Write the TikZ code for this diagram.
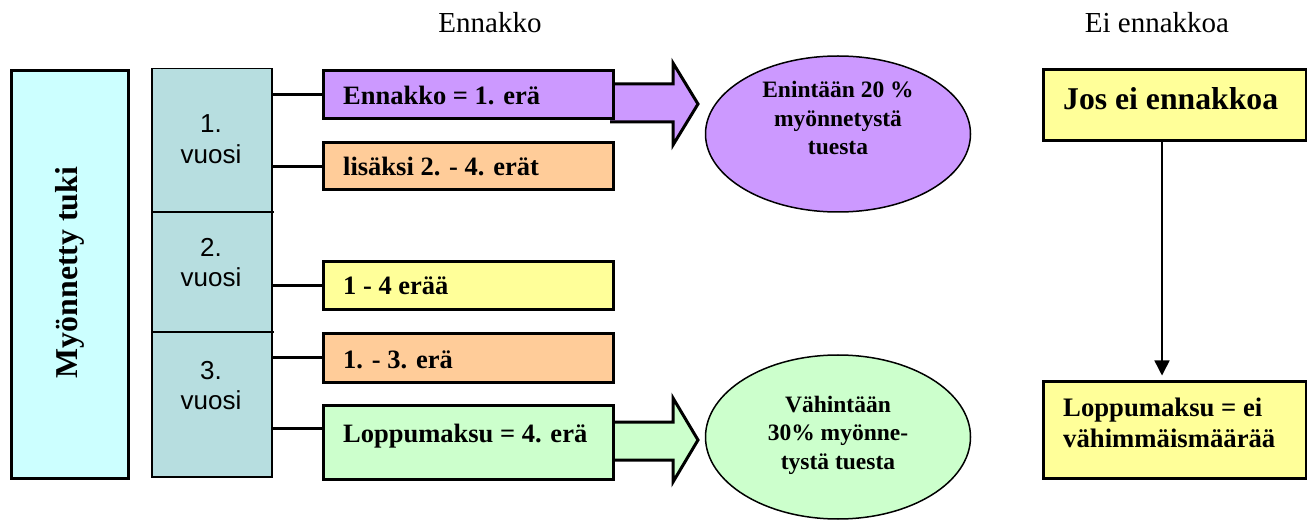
\documentclass[tikz,border=0pt]{standalone}
\usepackage{fontspec}
\setmainfont{Liberation Serif}
\newfontfamily\arialf{Liberation Sans}
\usetikzlibrary{arrows.meta,calc,shapes.geometric}
\definecolor{cyanbox}{HTML}{CCFFFF}
\definecolor{yearcol}{RGB}{183,222,224}
\definecolor{purp}{HTML}{CC99FF}
\definecolor{orng}{HTML}{FFCC99}
\definecolor{yell}{HTML}{FFFF99}
\definecolor{grn}{HTML}{CCFFCC}
\begin{document}
\begin{tikzpicture}[x=1pt,y=-1pt,
  boxn/.style={draw, line width=3pt, rectangle, inner sep=0pt, anchor=north west, minimum width=290pt},
  lbl/.style={anchor=base west, inner sep=0pt, font=\bfseries\fontsize{26.5}{30}\selectfont},
  yr/.style={anchor=base, inner sep=0pt, font=\arialf\fontsize{26}{30}\selectfont},
  conn/.style={line width=3pt},
  blockarrow/.style={line width=3pt, line join=miter},
  ell/.style={draw, ellipse, line width=1.5pt, inner sep=0pt},
  elltxt/.style={align=center, inner sep=0pt, font=\bfseries\fontsize{23.5}{28.5}\selectfont},
  head/.style={anchor=base, inner sep=0pt, font=\fontsize{29}{33}\selectfont}
]
\useasboundingbox (0,0) rectangle (1307,521);

% headers
\node[head] (h1) at (490,33) {Ennakko};
\node[head] (h2) at (1157,33) {Ei ennakkoa};

% left big box
\node[draw, line width=3pt, fill=cyanbox, anchor=north west, inner sep=0pt,
      minimum width=117pt, minimum height=407pt] (mt) at (9.5,69.5) {};
\node[anchor=base, rotate=90, inner sep=0pt, font=\bfseries\fontsize{31.8}{36}\selectfont] (mtt) at (77,272.5) {Myönnetty tuki};

% year column
\node[draw, line width=1.5pt, fill=yearcol, anchor=north west, inner sep=0pt,
      minimum width=120pt, minimum height=408pt] (yc) at (151,68) {};
\draw[line width=1.5pt] (yc.west |- 0,212) -- (274,212);
\draw[line width=1.5pt] (yc.west |- 0,332) -- (274,332);
\node[yr] (y1a) at (211,133) {1.};
\node[yr] (y1b) at (211,164) {vuosi};
\node[yr] (y2a) at (211,257) {2.};
\node[yr] (y2b) at (211,287) {vuosi};
\node[yr] (y3a) at (211,380) {3.};
\node[yr] (y3b) at (211,409) {vuosi};

% block arrows (drawn before the boxes)
\filldraw[blockarrow, fill=purp] (610,84) -- (673,84) -- (673,63) -- (698,104) -- (673,145) -- (673,122) -- (610,122);
\filldraw[blockarrow, fill=grn] (610,422) -- (673,422) -- (673,398) -- (698,440) -- (673,482) -- (673,460) -- (610,460);

% boxes
\node[boxn, fill=purp, minimum height=48pt] (b1) at (321.5,69.5) {};
\node[boxn, fill=orng, minimum height=47pt] (b2) at (321.5,141.5) {};
\node[boxn, fill=yell, minimum height=48pt] (b3) at (321.5,260) {};
\node[boxn, fill=orng, minimum height=49pt] (b4) at (321.5,332) {};
\node[boxn, fill=grn,  minimum height=74pt] (b5) at (321.5,404) {};

\node[lbl] (t1) at (343,105) {Ennakko = 1. erä};
\node[lbl] (t2) at (343,176) {lisäksi 2. - 4. erät};
\node[lbl] (t3) at (343,295) {1 - 4 erää};
\node[lbl] (t4) at (343,368) {1. - 3. erä};
\node[lbl] (t5) at (343,442) {Loppumaksu = 4. erä};

% connectors
\draw[conn] (yc.east |- b1.west) -- (b1.west);
\draw[conn] (yc.east |- b2.west) -- (b2.west);
\draw[conn] (yc.east |- b3.west) -- (b3.west);
\draw[conn] (yc.east |- b4.west) -- (b4.west);
\draw[conn] (yc.east |- 0,428) -- (b5.west |- 0,428);

% ellipses
\node[ell, fill=purp, minimum width=265pt, minimum height=156pt] (e1) at (838,134) {};
\node[elltxt] (e1t) at (838,118) {Enintään 20 \%\\myönnetystä\\tuesta};
\node[ell, fill=grn, minimum width=265pt, minimum height=164pt] (e2) at (838,437) {};
\node[elltxt] (e2t) at (838,435) {Vähintään\\30\% myönne-\\tystä tuesta};

% right column
\node[boxn, fill=yell, minimum width=263pt, minimum height=71pt] (jb) at (1041.5,68.5) {};
\node[anchor=base west, inner sep=0pt, font=\bfseries\fontsize{31.7}{36}\selectfont] (jt) at (1063,110) {Jos ei ennakkoa};
\node[boxn, fill=yell, minimum width=263pt, minimum height=97pt] (lb) at (1041.5,379.5) {};
\node[anchor=base west, inner sep=0pt, font=\bfseries\fontsize{26.7}{30}\selectfont] (lt1) at (1063,417) {Loppumaksu = ei};
\node[anchor=base west, inner sep=0pt, font=\bfseries\fontsize{26.7}{30}\selectfont] (lt2) at (1063,447) {vähimmäismäärää};
\coordinate (xa) at (1162,0);
\draw[line width=1.5pt, -{Triangle[length=15pt,width=15pt]}, shorten >=4pt] (jb.south -| xa) -- (lb.north -| xa);
\end{tikzpicture}
\end{document}
